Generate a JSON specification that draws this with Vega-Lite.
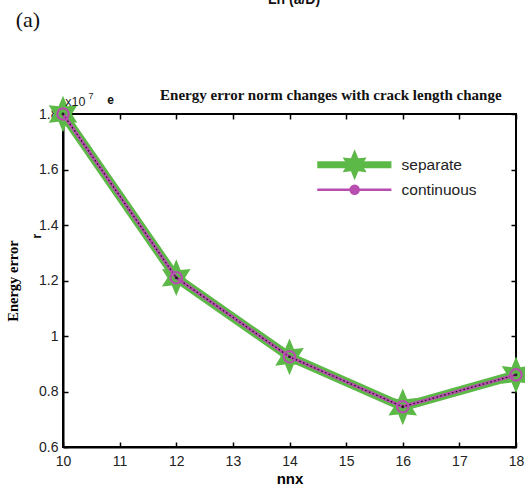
{
  "$schema": "https://vega.github.io/schema/vega-lite/v6.json",
  "width": 453,
  "height": 333,
  "autosize": "none",
  "padding": {"left": 63, "top": 114, "right": 9, "bottom": 41},
  "background": "white",
  "config": {"view": {"stroke": "black", "strokeWidth": 2}, "font": "Liberation Sans"},
  "datasets": {
    "main": [
      {"nnx": 10, "err": 1.80},
      {"nnx": 12, "err": 1.21},
      {"nnx": 14, "err": 0.925},
      {"nnx": 16, "err": 0.745},
      {"nnx": 18, "err": 0.86}
    ],
    "legSep": [{"x": 14.49, "y": 1.617}, {"x": 15.8, "y": 1.617}],
    "legCon": [{"x": 14.49, "y": 1.527}, {"x": 15.8, "y": 1.527}],
    "legText": [{"x": 15.98, "y": 1.617, "t": "separate"}, {"x": 15.98, "y": 1.527, "t": "continuous"}],
    "legSepMark": [{"x": 15.15, "y": 1.617}],
    "legConMark": [{"x": 15.15, "y": 1.527}]
  },
  "layer": [
    {
      "data": {"name": "main"},
      "mark": {"type": "line", "color": "#5CB947", "strokeWidth": 9},
      "encoding": {
        "x": {"field": "nnx", "type": "quantitative", "scale": {"domain": [10, 18], "nice": false},
          "axis": {"values": [10, 11, 12, 13, 14, 15, 16, 17, 18], "title": "nnx", "titleFont": "Liberation Sans", "titleFontWeight": "bold", "titleFontSize": 15, "titlePadding": 3, "labelFontSize": 14, "labelColor": "#222", "labelPadding": 12, "tickSize": -5, "tickColor": "black", "tickWidth": 1.5, "domainColor": "black", "domainWidth": 2, "grid": false, "labelFlush": false}},
        "y": {"field": "err", "type": "quantitative", "scale": {"domain": [0.6, 1.8], "nice": false, "zero": false},
          "axis": {"values": [0.6, 0.8, 1, 1.2, 1.4, 1.6, 1.8], "format": "~g", "title": "Energy error", "titleFont": "Liberation Serif", "titleFontWeight": "bold", "titleFontSize": 14.5, "titlePadding": 18, "labelFontSize": 14, "labelColor": "#222", "labelPadding": 10, "tickSize": -5, "tickColor": "black", "tickWidth": 1.5, "domainColor": "black", "domainWidth": 2, "grid": false}}
      }
    },
    {
      "data": {"name": "main"},
      "mark": {"type": "point", "shape": "M0,-1L0.24,-0.42L0.78,-0.48L0.48,0L0.78,0.48L0.24,0.42L0,1L-0.24,0.42L-0.78,0.48L-0.48,0L-0.78,-0.48L-0.24,-0.42Z", "filled": true, "color": "#5CB947", "opacity": 1, "size": 1350},
      "encoding": {"x": {"field": "nnx", "type": "quantitative", "axis": null}, "y": {"field": "err", "type": "quantitative", "axis": null}}
    },
    {
      "data": {"name": "main"},
      "mark": {"type": "line", "color": "#B84DB0", "strokeWidth": 3.5},
      "encoding": {"x": {"field": "nnx", "type": "quantitative", "axis": null}, "y": {"field": "err", "type": "quantitative", "axis": null}}
    },
    {
      "data": {"name": "main"},
      "mark": {"type": "line", "color": "#111", "strokeWidth": 1.2, "strokeDash": [1.5, 2.5]},
      "encoding": {"x": {"field": "nnx", "type": "quantitative", "axis": null}, "y": {"field": "err", "type": "quantitative", "axis": null}}
    },
    {
      "data": {"name": "main"},
      "mark": {"type": "point", "shape": "circle", "filled": false, "color": "#B84DB0", "strokeWidth": 2.2, "opacity": 1, "size": 130},
      "encoding": {"x": {"field": "nnx", "type": "quantitative", "axis": null}, "y": {"field": "err", "type": "quantitative", "axis": null}}
    },
    {
      "data": {"name": "main"},
      "mark": {"type": "point", "shape": "circle", "filled": true, "color": "#222", "opacity": 1, "size": 8},
      "encoding": {"x": {"field": "nnx", "type": "quantitative", "axis": null}, "y": {"field": "err", "type": "quantitative", "axis": null}}
    },
    {
      "data": {"name": "main"},
      "mark": {"type": "point", "opacity": 0},
      "encoding": {
        "x": {"field": "nnx", "type": "quantitative", "axis": {"orient": "top", "values": [10, 11, 12, 13, 14, 15, 16, 17, 18], "labels": false, "title": null, "tickSize": -5, "tickColor": "black", "tickWidth": 1.5, "domain": false, "grid": false}},
        "y": {"field": "err", "type": "quantitative", "axis": {"orient": "right", "values": [0.6, 0.8, 1, 1.2, 1.4, 1.6, 1.8], "labels": false, "title": null, "tickSize": -5, "tickColor": "black", "tickWidth": 1.5, "domain": false, "grid": false}}
      }
    },
    {
      "data": {"name": "legSep"},
      "mark": {"type": "line", "color": "#5CB947", "strokeWidth": 7},
      "encoding": {"x": {"field": "x", "type": "quantitative", "axis": null}, "y": {"field": "y", "type": "quantitative", "axis": null}}
    },
    {
      "data": {"name": "legSepMark"},
      "mark": {"type": "point", "shape": "M0,-1L0.24,-0.42L0.78,-0.48L0.48,0L0.78,0.48L0.24,0.42L0,1L-0.24,0.42L-0.78,0.48L-0.48,0L-0.78,-0.48L-0.24,-0.42Z", "filled": true, "color": "#5CB947", "opacity": 1, "size": 950},
      "encoding": {"x": {"field": "x", "type": "quantitative", "axis": null}, "y": {"field": "y", "type": "quantitative", "axis": null}}
    },
    {
      "data": {"name": "legCon"},
      "mark": {"type": "line", "color": "#B84DB0", "strokeWidth": 2.5},
      "encoding": {"x": {"field": "x", "type": "quantitative", "axis": null}, "y": {"field": "y", "type": "quantitative", "axis": null}}
    },
    {
      "data": {"name": "legConMark"},
      "mark": {"type": "point", "shape": "circle", "filled": true, "color": "#B84DB0", "opacity": 1, "size": 110},
      "encoding": {"x": {"field": "x", "type": "quantitative", "axis": null}, "y": {"field": "y", "type": "quantitative", "axis": null}}
    },
    {
      "data": {"name": "legText"},
      "mark": {"type": "text", "align": "left", "baseline": "middle", "fontSize": 15.5, "font": "Liberation Sans", "color": "#222"},
      "encoding": {"x": {"field": "x", "type": "quantitative", "axis": null}, "y": {"field": "y", "type": "quantitative", "axis": null}, "text": {"field": "t"}}
    },
    {
      "data": {"values": [{"x": 14.73, "y": 1.868, "t": "Energy error norm changes with crack length change"}]},
      "mark": {"type": "text", "align": "center", "baseline": "middle", "fontSize": 15, "font": "Liberation Serif", "fontWeight": "bold", "color": "#111"},
      "encoding": {"x": {"field": "x", "type": "quantitative", "axis": null}, "y": {"field": "y", "type": "quantitative", "axis": null}, "text": {"field": "t"}}
    },
    {
      "data": {"values": [{"x": 10.04, "y": 1.843, "t": "x10"}]},
      "mark": {"type": "text", "align": "left", "baseline": "middle", "fontSize": 12.5, "font": "Liberation Sans", "color": "#222"},
      "encoding": {"x": {"field": "x", "type": "quantitative", "axis": null}, "y": {"field": "y", "type": "quantitative", "axis": null}, "text": {"field": "t"}}
    },
    {
      "data": {"values": [{"x": 10.45, "y": 1.866, "t": "7"}]},
      "mark": {"type": "text", "align": "left", "baseline": "middle", "fontSize": 9, "font": "Liberation Sans", "color": "#222"},
      "encoding": {"x": {"field": "x", "type": "quantitative", "axis": null}, "y": {"field": "y", "type": "quantitative", "axis": null}, "text": {"field": "t"}}
    },
    {
      "data": {"values": [{"x": 10.78, "y": 1.85, "t": "e"}]},
      "mark": {"type": "text", "align": "left", "baseline": "middle", "fontSize": 12, "font": "Liberation Sans", "fontWeight": "bold", "color": "#111"},
      "encoding": {"x": {"field": "x", "type": "quantitative", "axis": null}, "y": {"field": "y", "type": "quantitative", "axis": null}, "text": {"field": "t"}}
    },
    {
      "data": {"values": [{"x": 9.54, "y": 1.36, "t": "r"}]},
      "mark": {"type": "text", "align": "center", "baseline": "middle", "angle": 270, "fontSize": 13, "font": "Liberation Sans", "fontWeight": "bold", "color": "#111"},
      "encoding": {"x": {"field": "x", "type": "quantitative", "axis": null}, "y": {"field": "y", "type": "quantitative", "axis": null}, "text": {"field": "t"}}
    },
    {
      "data": {"values": [{"x": 9.38, "y": 2.138, "t": "(a)"}]},
      "mark": {"type": "text", "align": "center", "baseline": "middle", "fontSize": 22, "font": "Liberation Serif", "color": "#111"},
      "encoding": {"x": {"field": "x", "type": "quantitative", "axis": null}, "y": {"field": "y", "type": "quantitative", "axis": null}, "text": {"field": "t"}}
    },
    {
      "data": {"values": [{"x": 14.08, "y": 2.196, "t": "Ln (a/D)"}]},
      "mark": {"type": "text", "align": "center", "baseline": "alphabetic", "fontSize": 14, "font": "Liberation Sans", "fontWeight": "bold", "color": "#111"},
      "encoding": {"x": {"field": "x", "type": "quantitative", "axis": null}, "y": {"field": "y", "type": "quantitative", "axis": null}, "text": {"field": "t"}}
    }
  ],
  "resolve": {"axis": {"x": "independent", "y": "independent"}}
}
